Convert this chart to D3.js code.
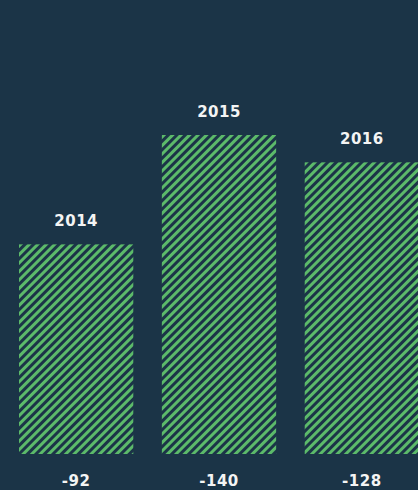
<!DOCTYPE html>
<html>
<head>
<meta charset="utf-8">
<script src="https://cdn.jsdelivr.net/npm/d3@7"></script>
<style>
  body { margin: 0; background: #1b3447; }
  svg { display: block; }
</style>
</head>
<body>
<div id="chart"></div>
<script>
var width = 418,
    height = 490;

var colorBg = "#1b3447"
var colorBar = "#5cba6a"

// data
var years = ["2014", "2015", "2016"];
var values = [-92, -140, -128];

var margin = { left: 19, right: -1, top: 135, bottom: 36 };

var svg = d3.select("#chart").append("svg")
    .attr("width", width)
    .attr("height", height);

svg.append("rect").attr("width", width).attr("height", height).attr("fill", colorBg);

// striped pattern
var stripe = 6;
var pattern = svg.append("defs").append("pattern")
    .attr("id", "stripes")
    .attr("patternUnits", "userSpaceOnUse")
    .attr("width", stripe)
    .attr("height", stripe)
    .attr("patternTransform", "rotate(45)");
pattern.append("rect").attr("width", stripe).attr("height", stripe).attr("fill", colorBg);
pattern.append("rect").attr("width", stripe / 2).attr("height", stripe).attr("fill", colorBar);

var x = d3.scaleBand()
    .domain(years)
    .range([margin.left, width - margin.right])
    .paddingInner(0.2)
    .paddingOuter(0);

var y = d3.scaleLinear()
    .domain([0, d3.max(values, d => Math.abs(d))])
    .range([height - margin.bottom, margin.top]);

var rows = years.map((yr, i) => ({ year: yr, value: values[i] }));

var bars = svg.selectAll(".bar").data(rows).enter().append("g").attr("class", "bar");

bars.append("rect")
    .attr("x", d => x(d.year))
    .attr("y", d => y(Math.abs(d.value)))
    .attr("width", x.bandwidth())
    .attr("height", d => y(0) - y(Math.abs(d.value)))
    .attr("fill", "url(#stripes)");

bars.append("text")
    .attr("x", d => x(d.year) + x.bandwidth() / 2)
    .attr("y", d => y(Math.abs(d.value)) - 18)
    .attr("text-anchor", "middle")
    .style("font-family", "DejaVu Sans")
    .style("font-weight", "bold")
    .style("font-size", "15px")
    .style("letter-spacing", "0.5px")
    .style("fill", "#f4f4f4")
    .text(d => d.year);

bars.append("text")
    .attr("x", d => x(d.year) + x.bandwidth() / 2)
    .attr("y", y(0) + 32)
    .attr("text-anchor", "middle")
    .style("font-family", "DejaVu Sans")
    .style("font-weight", "bold")
    .style("font-size", "15px")
    .style("letter-spacing", "0.5px")
    .style("fill", "#f4f4f4")
    .text(d => d.value);
</script>
</body>
</html>
